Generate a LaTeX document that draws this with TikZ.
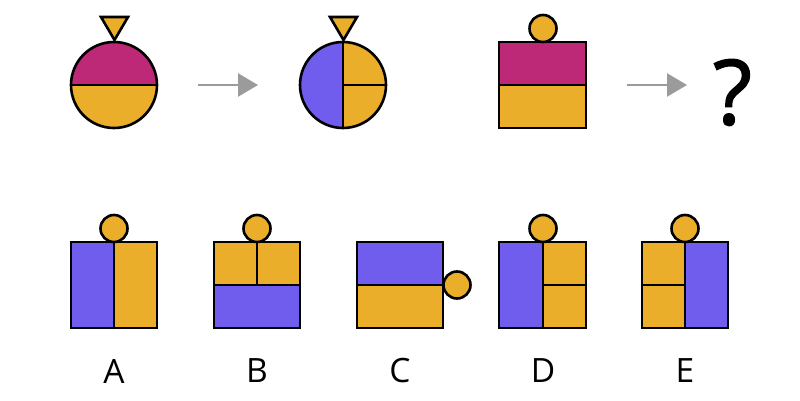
\documentclass[tikz,border=0pt]{standalone}
\usepackage{fontspec}
\setmainfont{Open Sans}
\newfontfamily\qfont{Open Sans}[FakeBold=1.6]
\usetikzlibrary{arrows.meta}
\definecolor{ora}{HTML}{EAAE2B}
\definecolor{pur}{HTML}{715DED}
\definecolor{mag}{HTML}{BE2977}
\definecolor{arr}{HTML}{9B9B9B}
\tikzset{
  outl/.style={draw=black, line width=2.6pt, line join=miter},
  divl/.style={draw=black, line width=2.6pt},
  conn/.style={draw=arr, line width=2.5pt, -{Triangle[length=20pt,width=23pt]}},
  lbl/.style={font=\fontsize{33.5}{33.5}\selectfont, inner sep=0pt},
}
\begin{document}
\begin{tikzpicture}[x=1pt,y=-1pt]
\useasboundingbox (0,0) rectangle (800,401);
\fill[white] (0,0) rectangle (800,401);

% ---------- top row ----------
% circle 1
\fill[ora] (114,85) circle (43pt);
\begin{scope}
  \clip (114,85) circle (43pt);
  \fill[mag] (60,30) rectangle (170,85);
\end{scope}
\draw[divl] (71,85) -- (157,85);
\draw[outl] (114,85) circle (43pt);
\filldraw[fill=ora, outl] (101,17) -- (128,17) -- (114.5,40) -- cycle;

% arrow 1
\coordinate (a1s) at (198,85);
\coordinate (a1e) at (258,85);
\draw[conn] (a1s) -- (a1e);

% circle 2
\fill[ora] (343,85) circle (43pt);
\begin{scope}
  \clip (343,85) circle (43pt);
  \fill[pur] (290,30) rectangle (343,140);
\end{scope}
\draw[divl] (343,42) -- (343,128);
\draw[divl] (343,85) -- (386,85);
\draw[outl] (343,85) circle (43pt);
\filldraw[fill=ora, outl] (330,17) -- (357,17) -- (343.5,40) -- cycle;

% square 3
\fill[mag] (499,42) rectangle (586,85);
\fill[ora] (499,85) rectangle (586,128);
\draw[divl] (499,85) -- (586,85);
\draw[outl] (499,42) rectangle (586,128);
\filldraw[fill=ora, outl] (543,28.5) circle (13.5pt);

% arrow 2
\coordinate (a2s) at (627,85);
\coordinate (a2e) at (687,85);
\draw[conn] (a2s) -- (a2e);

\node[inner sep=0pt, font=\qfont\fontsize{90}{90}\selectfont] (q) at (732.5,92.5) {?};

% ---------- bottom row ----------
% A
\fill[pur] (71,242) rectangle (114,328);
\fill[ora] (114,242) rectangle (157,328);
\draw[divl] (114,242) -- (114,328);
\draw[outl] (71,242) rectangle (157,328);
\filldraw[fill=ora, outl] (114,228.5) circle (13.5pt);
\node[lbl] (la) at (114,371) {A};

% B
\fill[ora] (214,242) rectangle (300,285);
\fill[pur] (214,285) rectangle (300,328);
\draw[divl] (214,285) -- (300,285);
\draw[divl] (257,242) -- (257,285);
\draw[outl] (214,242) rectangle (300,328);
\filldraw[fill=ora, outl] (257,228.5) circle (13.5pt);
\node[lbl] (lb) at (257,371) {B};

% C
\fill[pur] (357,242) rectangle (443,285);
\fill[ora] (357,285) rectangle (443,328);
\draw[divl] (357,285) -- (443,285);
\draw[outl] (357,242) rectangle (443,328);
\filldraw[fill=ora, outl] (457,285) circle (13.5pt);
\node[lbl] (lc) at (400,371) {C};

% D
\fill[pur] (499,242) rectangle (543,328);
\fill[ora] (543,242) rectangle (586,328);
\draw[divl] (543,242) -- (543,328);
\draw[divl] (543,285) -- (586,285);
\draw[outl] (499,242) rectangle (586,328);
\filldraw[fill=ora, outl] (543,228.5) circle (13.5pt);
\node[lbl] (ld) at (543,371) {D};

% E
\fill[ora] (642,242) rectangle (685,328);
\fill[pur] (685,242) rectangle (728,328);
\draw[divl] (685,242) -- (685,328);
\draw[divl] (642,285) -- (685,285);
\draw[outl] (642,242) rectangle (728,328);
\filldraw[fill=ora, outl] (685,228.5) circle (13.5pt);
\node[lbl] (le) at (685,371) {E};
\end{tikzpicture}
\end{document}
